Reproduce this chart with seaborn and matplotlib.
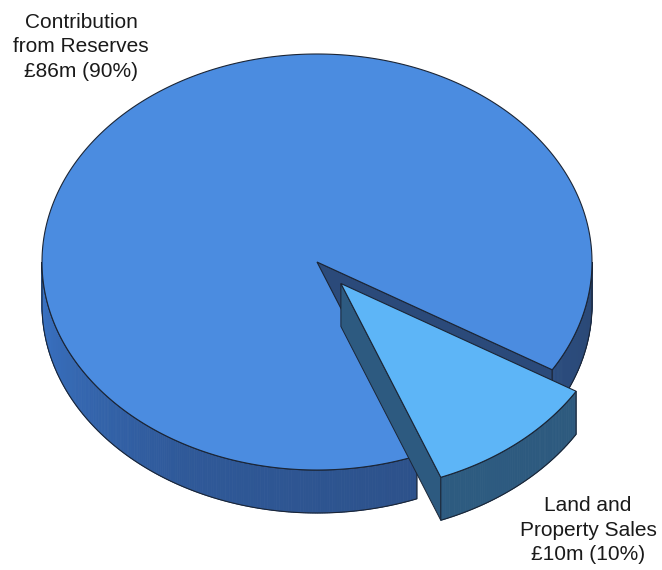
import numpy as np
import matplotlib
matplotlib.use("Agg")
import matplotlib.pyplot as plt
from matplotlib.patches import Polygon
import seaborn as sns

# Funding sources (in £m) and their printed shares
labels = ["Contribution\nfrom Reserves", "Land and\nProperty Sales"]
amounts = [86, 10]
percents = [90, 10]

top_colors = ["#4b8ce0", "#5db5f7"]
side_ramps = [["#3a74c6", "#2f5999", "#2c5088", "#2b4874"],
              ["#2f6088", "#2c587c"]]
face_colors = ["#2b4a7a", "#2d5a80"]
edge_color = "#1b2535"

sns.set_theme(style="white")
plt.rcParams["font.family"] = ["Liberation Sans", "DejaVu Sans"]

W, H = 662, 570
fig = plt.figure(figsize=(W / 100, H / 100), dpi=100)
ax = fig.add_axes([0, 0, 1, 1])

# projection of the tilted disc, in units of the radius
cx_px, cy_px, r_px = 317, 262, 275
tilt = 208 / 275
depth = 43 / 275
ax.set_xlim(-cx_px / r_px, (W - cx_px) / r_px)
ax.set_ylim((cy_px - H) / r_px, cy_px / r_px)
ax.set_aspect("equal")
ax.axis("off")

start_angle = -31.2
explode = [0.0, 0.135]

fractions = np.array(amounts, dtype=float) / sum(amounts)
spans = fractions * 360.0
starts = start_angle + np.concatenate([[0], np.cumsum(spans)[:-1]])


def pt(t_deg, off, r=1.0, z=0.0):
    t = np.radians(t_deg)
    return (off[0] + r * np.cos(t), off[1] + r * np.sin(t) * tilt - z)


def visible_ranges(t0, t1):
    """Portions of [t0, t1] where the outer wall faces the viewer."""
    out = []
    k0 = int(np.floor((t0 - 180) / 360)) - 1
    for k in range(k0, k0 + 4):
        a, b = 180 + 360 * k, 360 + 360 * k
        lo, hi = max(a, t0), min(b, t1)
        if hi > lo:
            out.append((lo, hi))
    return out


for i, (t0, span) in enumerate(zip(starts, spans)):
    t1 = t0 + span
    mid = np.radians(t0 + span / 2)
    off = (explode[i] * np.cos(mid), explode[i] * np.sin(mid) * tilt)

    # radial cut faces turned toward the viewer
    for t, normal in ((t0, t0 - 90), (t1, t1 + 90)):
        if np.sin(np.radians(normal)) < 0:
            quad = [off, pt(t, off), pt(t, off, z=depth), (off[0], off[1] - depth)]
            ax.add_patch(Polygon(quad, closed=True, facecolor=face_colors[i],
                                 edgecolor=edge_color, linewidth=0.7, zorder=2 + 3 * i))

    # outer wall, shaded from the lit left to the dark right
    ramp = sns.blend_palette(side_ramps[i], 181)
    for lo, hi in visible_ranges(t0, t1):
        ts = np.linspace(lo, hi, max(int((hi - lo) * 2), 2))
        for a, b in zip(ts[:-1], ts[1:]):
            frac = (((a + b) / 2) % 360 - 180) / 180
            c = ramp[int(np.clip(frac, 0, 1) * 180)]
            quad = [pt(a, off), pt(b, off), pt(b, off, z=depth), pt(a, off, z=depth)]
            ax.add_patch(Polygon(quad, closed=True, facecolor=c, edgecolor=c,
                                 linewidth=0.6, zorder=2 + 3 * i))
        top = [pt(t, off) for t in ts]
        bot = [pt(t, off, z=depth) for t in ts[::-1]]
        ax.add_patch(Polygon(top + bot, closed=True, facecolor="none",
                             edgecolor=edge_color, linewidth=0.8, zorder=3 + 3 * i))

    # top surface of the slice
    ts = np.linspace(t0, t1, int(span * 2) + 2)
    verts = [off] + [pt(t, off) for t in ts]
    ax.add_patch(Polygon(verts, closed=True, facecolor=top_colors[i],
                         edgecolor=edge_color, linewidth=0.8, zorder=4 + 3 * i))

# slice labels
label_pos = [(81, 47), (588, 530)]
for lab, amt, pct, (px, py) in zip(labels, amounts, percents, label_pos):
    ax.text((px - cx_px) / r_px, (cy_px - py) / r_px,
            f"{lab}\n£{amt}m ({pct}%)", ha="center", va="center",
            fontsize=15, color="#1a1a1a", linespacing=1.38, zorder=10)

fig.savefig("out.png", dpi=100)
